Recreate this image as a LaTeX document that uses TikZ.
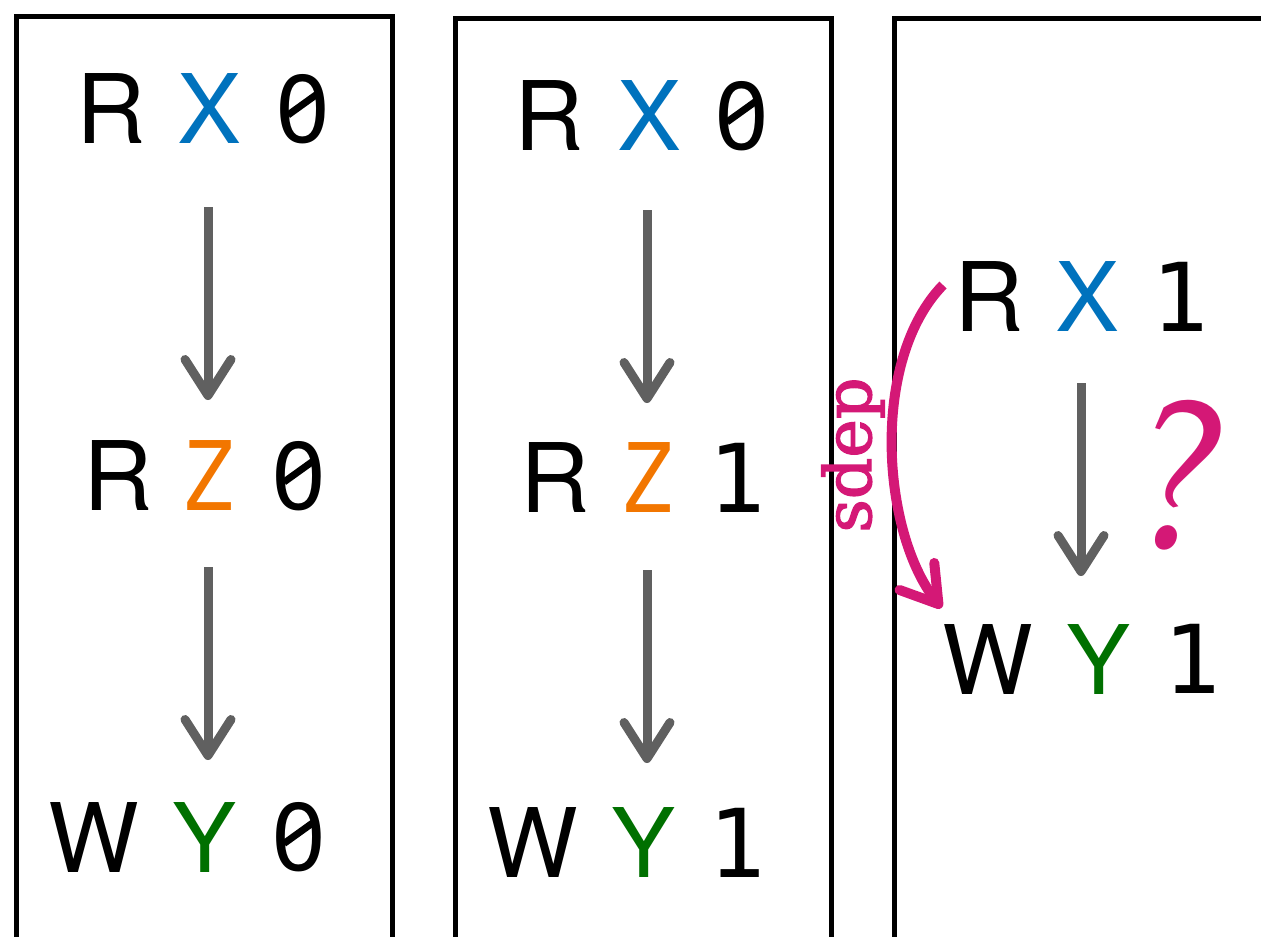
\documentclass[tikz,border=0pt]{standalone}
\usepackage[T1,TU]{fontenc}
\usepackage{fontspec}
\usetikzlibrary{arrows.meta,calc}

\newfontfamily\lettersfont{TeX Gyre Heros}
\newfontfamily\digitsfont{DejaVu Sans Mono}
\newfontfamily\labelfont{DejaVu Serif}[FakeBold=2]
\newcommand\qmarkfont{\fontencoding{T1}\fontfamily{ppl}\fontshape{it}\selectfont}

\definecolor{depmagenta}{RGB}{212,24,118}
\definecolor{xblue}{RGB}{0,114,189}
\definecolor{zorange}{RGB}{242,118,0}
\definecolor{ygreen}{RGB}{0,112,0}
\definecolor{flowgrey}{RGB}{96,96,96}

\tikzset{
  sym/.style={inner sep=0pt, font=\lettersfont\fontsize{96}{96}\selectfont},
  dig/.style={inner sep=0pt, font=\digitsfont\fontsize{95}{95}\selectfont},
  zero/.style={inner sep=0pt, font=\lettersfont\fontsize{96}{96}\selectfont},
  zeroslash/.style={draw=black, line width=7pt, line cap=butt},
  frame/.style={draw=black, line width=5pt},
  flow/.style={draw=flowgrey, line width=9pt,
    -{Straight Barb[length=36pt,width=46pt,round]}},
  dep/.style={draw=depmagenta, line width=10pt,
    -{Straight Barb[length=35pt,width=44pt,round]}},
  deplabel/.style={inner sep=0pt, text=depmagenta,
    font=\labelfont\fontsize{65}{65}\selectfont},
  qmark/.style={inner sep=0pt, text=depmagenta,
    font=\qmarkfont\fontsize{210}{210}\selectfont},
}

% a value 0 with a slash through its counter
\newcommand\slashedzero[2]{%
  \node[zero] (#1) at #2 {0};
  \draw[zeroslash] ($(#1.center)+(-15,6)$) -- ($(#1.center)+(17,-17)$);}

\newcommand\narrowz{\scalebox{0.82}[1]{Z}}

\begin{document}
\begin{tikzpicture}[x=1pt,y=-1pt]
\useasboundingbox (0,0) rectangle (1261,937);
\clip (0,0) rectangle (1261,937);

% three execution panels
\draw[frame] (16.5,16) rectangle (392.5,939);
\draw[frame] (455.5,18) rectangle (831,960);
\draw[frame] (894.5,18) rectangle (1300,960);

% panel 1: R X 0 -> R Z 0 -> W Y 0
\node[sym] (R1) at (111.5,109) {R};
\node[sym, text=xblue] (X1) at (210,109) {X};
\slashedzero{V1}{(303,109)}
\node[sym] (R1b) at (118,476) {R};
\node[sym, text=zorange] (Z1) at (210,476) {\narrowz};
\slashedzero{V1b}{(299,476)}
\node[sym] (W1) at (94,837.5) {W};
\node[sym, text=ygreen] (Y1) at (204.5,837.5) {Y};
\slashedzero{V1c}{(299,837.5)}

\draw[flow, shorten <=98pt, shorten >=76pt]
  ([xshift=-2pt]X1.center) -- ([xshift=-2pt]X1.center |- Z1.center);
\draw[flow, shorten <=91pt, shorten >=77.5pt]
  ([xshift=-2pt]Z1.center) -- ([xshift=-2pt]Z1.center |- Y1.center);

% panel 2: R X 0 -> R Z 1 -> W Y 1
\node[sym] (R2) at (549,116) {R};
\node[sym, text=xblue] (X2) at (650,116) {X};
\slashedzero{V2}{(742,116)}
\node[sym] (R2b) at (555,477.5) {R};
\node[sym, text=zorange] (Z2) at (648.5,477.5) {\narrowz};
\node[dig] (V2b) at (737.5,477.5) {1};
\node[sym] (W2) at (533,842.5) {W};
\node[sym, text=ygreen] (Y2) at (643.5,842.5) {Y};
\node[dig] (V2c) at (737,842.5) {1};

\draw[flow, shorten <=94pt, shorten >=74.5pt]
  ([xshift=-3pt]X2.center) -- ([xshift=-3pt]X2.center |- Z2.center);
\draw[flow, shorten <=92.5pt, shorten >=79.5pt]
  ([xshift=-1.5pt]Z2.center) -- ([xshift=-1.5pt]Z2.center |- Y2.center);

% panel 3: R X 1 -> W Y 1
\node[sym] (R3) at (989,297) {R};
\node[sym, text=xblue] (X3) at (1087.5,297) {X};
\node[dig] (V3) at (1180,297) {1};
\node[sym] (W3) at (987.5,659) {W};
\node[sym, text=ygreen] (Y3) at (1099,659) {Y};
\node[dig] (V3b) at (1192.5,659) {1};

\draw[flow, shorten <=86pt, shorten >=83pt]
  ([xshift=-6.5pt]X3.center) -- ([xshift=-6.5pt]X3.center |- Y3.center);

% semantic dependency from the read to the write
\coordinate (depA) at ($(R3.center)+(-46,-12)$);
\coordinate (depB) at ($(W3.center)+(-46,-51)$);
\draw[dep] (depA) .. controls +(-73,75) and +(-60,-77) .. (depB);
\node[deplabel, rotate=90, anchor=base] (deplbl) at (871,455) {sdep};

\node[qmark] (q) at (1184,477) {?};
\end{tikzpicture}
\end{document}
